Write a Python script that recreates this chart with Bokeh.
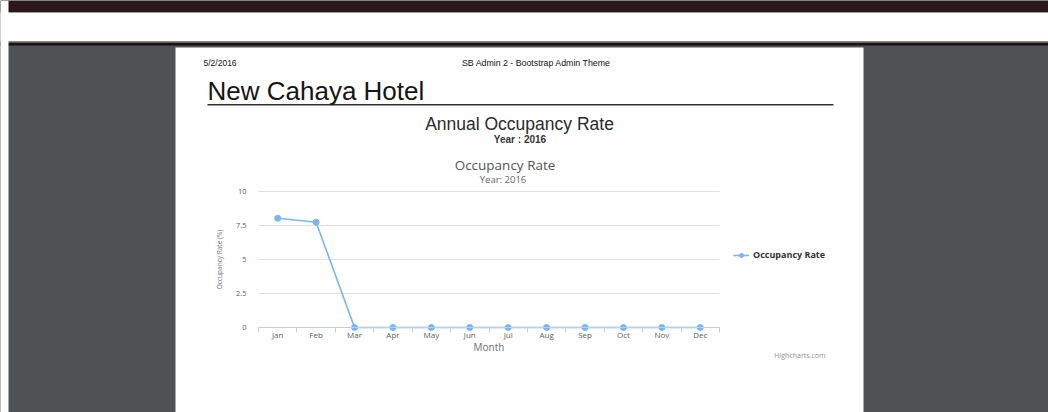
from bokeh.plotting import figure
from bokeh.models import (Range1d, FixedTicker, Legend, LegendItem, Label, BoxAnnotation,
                          LinearAxis)
from bokeh.embed import file_html
from bokeh.resources import INLINE

# ---- data ----
months = ["Jan", "Feb", "Mar", "Apr", "May", "Jun", "Jul", "Aug", "Sep", "Oct", "Nov", "Dec"]
occupancy = [8.03, 7.74, 0, 0, 0, 0, 0, 0, 0, 0, 0, 0]
y_ticks = [0, 2.5, 5, 7.5, 10]
y_tick_labels = ["0", "2.5", "5", "7.5", "10"]
series_name = "Occupancy Rate"

# ---- layout constants (canvas pixels) ----
W, H = 1048, 412
PLOT_L, PLOT_R, PLOT_T, PLOT_B = 258, 719, 191, 327
SERIES = "#7cb5ec"
AXIS = "#c0d0e0"
GRAY_BG = "#4f5255"

n = len(months)
x = list(range(n))
x_lo, x_hi = -0.5, n - 0.5
y_lo, y_hi = y_ticks[0], y_ticks[-1]

# chart ranges so that the category band [-0.5, n-0.5] and [0, 10] fall on the plot area
sx = (PLOT_R - PLOT_L) / (x_hi - x_lo)
sy = (PLOT_B - PLOT_T) / (y_hi - y_lo)
chart_x = Range1d(x_lo - PLOT_L / sx, x_hi + (W - PLOT_R) / sx)
chart_y = Range1d(y_lo - (H - PLOT_B) / sy, y_hi + PLOT_T / sy)

p = figure(width=W, height=H, output_backend="svg", toolbar_location=None,
           x_range=Range1d(0, W), y_range=Range1d(H, 0),
           x_axis_location=None, y_axis_location=None,
           min_border=0, min_border_left=0, min_border_right=0,
           min_border_top=0, min_border_bottom=0)
p.extra_x_ranges = {"chart": chart_x}
p.extra_y_ranges = {"chart": chart_y}
p.title.visible = False
p.border_fill_color = GRAY_BG
p.background_fill_color = GRAY_BG
p.outline_line_color = None
p.grid.visible = False


def box(l, r, t, b, color):
    p.add_layout(BoxAnnotation(left=l, right=r, top=t, bottom=b,
                               fill_color=color, fill_alpha=1, line_alpha=0, level="underlay"))


def label(text, x0, y0, size, font="Liberation Sans", color="#222222", align="left",
          style="normal"):
    p.add_layout(Label(x=x0, y=y0, text=text,
                       text_font=font, text_font_size=size, text_color=color,
                       text_align=align, text_font_style=style, text_baseline="middle"))


# page decoration
box(0, W, 0, 12, "#2b1719")
box(0, W, 12, 41, "white")
box(0, W, 41, 42.5, "#7a5a5a")
box(0, W, 42.5, 45, "#151313")
box(0, 8, 0, H, "white")
box(175, 863, 47, H, "white")
box(207, 833, 103.5, 105, "#333333")

label("5/2/2016", 203, 62, "8.5px", color="#111111")
label("SB Admin 2 - Bootstrap Admin Theme", 536, 62, "8.8px", color="#111111", align="center")
label("New Cahaya Hotel", 207, 90.5, "26px", color="#151515")
label("Annual Occupancy Rate", 519, 123, "17.5px", color="#2a2a2a", align="center")
label("Year : 2016", 519.5, 139, "10px", color="#333333", align="center", style="bold")
label("Occupancy Rate", 504.5, 164, "13.5px", font="Open Sans", color="#555555", align="center")
label("Year: 2016", 502.5, 178.5, "9.5px", font="Open Sans", color="#666666", align="center")
label("Highcharts.com", 825, 355, "7px", font="Open Sans", color="#909090", align="right")

# horizontal grid lines at the y ticks
p.segment(x0=[x_lo] * len(y_ticks), x1=[x_hi] * len(y_ticks), y0=y_ticks, y1=y_ticks,
          line_color="#e0e0e0", line_width=1, x_range_name="chart", y_range_name="chart")

# series
ln = p.line(x, occupancy, line_color=SERIES, line_width=1.6,
            x_range_name="chart", y_range_name="chart")
pts = p.scatter(x, occupancy, size=6, fill_color=SERIES, line_color=SERIES,
                x_range_name="chart", y_range_name="chart")

# x axis
xa = LinearAxis(x_range_name="chart", y_range_name="chart", fixed_location=y_lo,
                bounds=(x_lo, x_hi),
                ticker=FixedTicker(ticks=x, minor_ticks=[i - 0.5 for i in range(n + 1)]))
xa.major_label_overrides = {i: m for i, m in zip(x, months)}
xa.axis_line_color = AXIS
xa.major_tick_line_color = None
xa.major_tick_out = 0
xa.major_tick_in = 0
xa.minor_tick_line_color = AXIS
xa.minor_tick_out = 5
xa.minor_tick_in = 0
xa.major_label_standoff = -4
xa.major_label_text_font = "Open Sans"
xa.major_label_text_font_size = "8px"
xa.major_label_text_color = "#606060"
xa.axis_label = "Month"
xa.axis_label_text_font = "Open Sans"
xa.axis_label_text_font_size = "10px"
xa.axis_label_text_font_style = "normal"
xa.axis_label_text_color = "#707070"
xa.axis_label_standoff = -3
p.add_layout(xa, "below")

# y axis
ya = LinearAxis(x_range_name="chart", y_range_name="chart", fixed_location=x_lo,
                bounds=(y_lo, y_hi), ticker=FixedTicker(ticks=y_ticks))
ya.major_label_overrides = {t: s for t, s in zip(y_ticks, y_tick_labels)}
ya.axis_line_color = None
ya.major_tick_line_color = None
ya.minor_tick_line_color = None
ya.major_tick_out = 0
ya.major_tick_in = 0
ya.major_label_standoff = 12
ya.major_label_text_font = "Open Sans"
ya.major_label_text_font_size = "7.5px"
ya.major_label_text_color = "#606060"
ya.axis_label = "Occupancy Rate (%)"
ya.axis_label_text_font = "Open Sans"
ya.axis_label_text_font_size = "6.5px"
ya.axis_label_text_font_style = "normal"
ya.axis_label_text_color = "#707070"
ya.axis_label_standoff = 9
p.add_layout(ya, "left")

legend = Legend(items=[LegendItem(label=series_name, renderers=[ln, pts])],
                location=(733, 151), margin=0, padding=0, spacing=0,
                glyph_width=16, glyph_height=10, label_height=10, label_standoff=4,
                label_text_font="Open Sans", label_text_font_size="9px",
                label_text_font_style="bold", label_text_color="#333333",
                border_line_alpha=0, background_fill_alpha=0)
p.add_layout(legend)

open("out.html", "w").write(file_html(p, INLINE))
